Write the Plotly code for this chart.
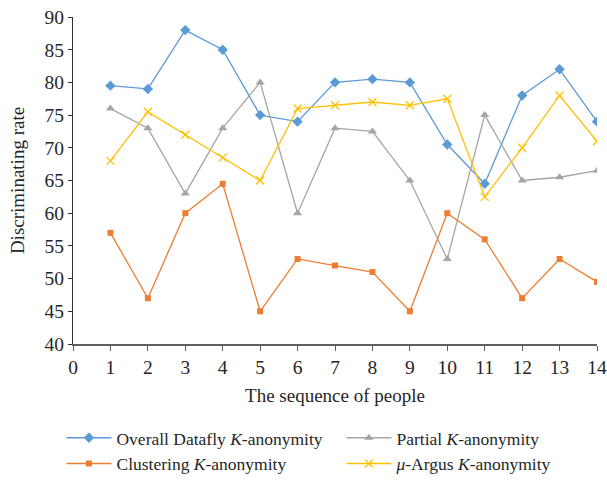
import plotly.graph_objects as go

people = list(range(1, 15))
overall_datafly = [79.5, 79, 88, 85, 75, 74, 80, 80.5, 80, 70.5, 64.5, 78, 82, 74]
clustering = [57, 47, 60, 64.5, 45, 53, 52, 51, 45, 60, 56, 47, 53, 49.5]
partial = [76, 73, 63, 73, 80, 60, 73, 72.5, 65, 53, 75, 65, 65.5, 66.5]
mu_argus = [68, 75.5, 72, 68.5, 65, 76, 76.5, 77, 76.5, 77.5, 62.5, 70, 78, 71]

x_ticks = list(range(0, 15))
y_ticks = list(range(40, 91, 5))

FONT = "Liberation Serif, Times New Roman, serif"

fig = go.Figure()
fig.add_trace(go.Scatter(x=people, y=overall_datafly, mode="lines+markers",
                         name="Overall Datafly <i>K</i>-anonymity",
                         line=dict(color="#5B9BD5", width=1.3),
                         marker=dict(symbol="diamond", size=8, color="#5B9BD5")))
fig.add_trace(go.Scatter(x=people, y=partial, mode="lines+markers",
                         name="Partial <i>K</i>-anonymity",
                         line=dict(color="#A5A5A5", width=1.3),
                         marker=dict(symbol="triangle-up", size=8, color="#A5A5A5")))
fig.add_trace(go.Scatter(x=people, y=clustering, mode="lines+markers",
                         name="Clustering <i>K</i>-anonymity",
                         line=dict(color="#ED7D31", width=1.3),
                         marker=dict(symbol="square", size=6, color="#ED7D31")))
fig.add_trace(go.Scatter(x=people, y=mu_argus, mode="lines+markers",
                         name="<i>μ</i>-Argus <i>K</i>-anonymity",
                         line=dict(color="#FFC000", width=1.3),
                         marker=dict(symbol="x-thin", size=8, color="#FFC000",
                                     line=dict(color="#FFC000", width=1.3))))

fig.update_layout(
    width=607, height=481,
    paper_bgcolor="white", plot_bgcolor="white",
    margin=dict(l=73, r=10, t=17, b=137, autoexpand=False),
    font=dict(family=FONT, size=17, color="#262626"),
    showlegend=True,
    legend=dict(orientation="h", x=-0.022, y=-0.232, xanchor="left", yanchor="top",
                entrywidth=220, entrywidthmode="pixels",
                font=dict(family=FONT, size=17.5, color="#262626"),
                itemwidth=45, tracegroupgap=0),
    xaxis=dict(range=[0, 14], tickmode="array", tickvals=x_ticks,
               showgrid=False, zeroline=False, showline=True, automargin=False,
               ticklabeloverflow="allow",
               linecolor="#5f5f5f", linewidth=2,
               ticks="outside", ticklen=5, tickcolor="#5f5f5f",
               tickfont=dict(size=19.5),
               title=dict(text="The sequence of people", font=dict(size=19), standoff=11)),
    yaxis=dict(range=[40, 90], tickmode="array", tickvals=y_ticks,
               showgrid=False, zeroline=False, showline=True, automargin=False,
               ticklabeloverflow="allow",
               linecolor="#303030", linewidth=1.3,
               ticks="outside", ticklen=4, tickcolor="#303030",
               tickfont=dict(size=19.5),
               title=dict(text="Discriminating rate", font=dict(size=19), standoff=14)),
)

# remove the page's default body margin so the 607x481 figure fills the window
fig.write_html("out.html",
               config={"displayModeBar": False},
               post_script="document.body.style.margin='0';document.body.style.overflow='hidden';")
